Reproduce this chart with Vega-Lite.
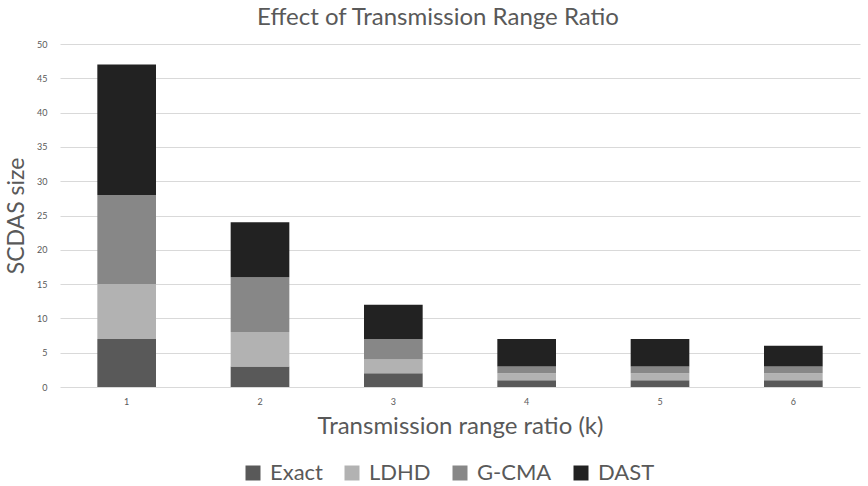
{
  "$schema": "https://vega.github.io/schema/vega-lite/v6.json",
  "autosize": {"type": "none"},
  "width": 800,
  "height": 343,
  "padding": {"left": 60, "top": 44, "right": 8, "bottom": 99},
  "background": "white",
  "config": {
    "font": "Lato",
    "view": {"stroke": null},
    "axis": {"labelColor": "#595959", "titleColor": "#595959", "labelFont": "Lato", "titleFont": "Lato", "titleFontWeight": "normal"}
  },
  "title": {"text": "Effect of Transmission Range Ratio", "fontSize": 24, "fontWeight": "normal", "color": "#595959", "font": "Lato", "anchor": "middle", "dx": -22, "offset": 10},
  "data": {
    "values": [
      {"k": "1", "series": "Exact", "ord": 1, "value": 7},
      {"k": "1", "series": "LDHD", "ord": 2, "value": 8},
      {"k": "1", "series": "G-CMA", "ord": 3, "value": 13},
      {"k": "1", "series": "DAST", "ord": 4, "value": 19},
      {"k": "2", "series": "Exact", "ord": 1, "value": 3},
      {"k": "2", "series": "LDHD", "ord": 2, "value": 5},
      {"k": "2", "series": "G-CMA", "ord": 3, "value": 8},
      {"k": "2", "series": "DAST", "ord": 4, "value": 8},
      {"k": "3", "series": "Exact", "ord": 1, "value": 2},
      {"k": "3", "series": "LDHD", "ord": 2, "value": 2},
      {"k": "3", "series": "G-CMA", "ord": 3, "value": 3},
      {"k": "3", "series": "DAST", "ord": 4, "value": 5},
      {"k": "4", "series": "Exact", "ord": 1, "value": 1},
      {"k": "4", "series": "LDHD", "ord": 2, "value": 1},
      {"k": "4", "series": "G-CMA", "ord": 3, "value": 1},
      {"k": "4", "series": "DAST", "ord": 4, "value": 4},
      {"k": "5", "series": "Exact", "ord": 1, "value": 1},
      {"k": "5", "series": "LDHD", "ord": 2, "value": 1},
      {"k": "5", "series": "G-CMA", "ord": 3, "value": 1},
      {"k": "5", "series": "DAST", "ord": 4, "value": 4},
      {"k": "6", "series": "Exact", "ord": 1, "value": 1},
      {"k": "6", "series": "LDHD", "ord": 2, "value": 1},
      {"k": "6", "series": "G-CMA", "ord": 3, "value": 1},
      {"k": "6", "series": "DAST", "ord": 4, "value": 3}
    ]
  },
  "mark": {"type": "bar"},
  "encoding": {
    "x": {
      "field": "k", "type": "ordinal",
      "scale": {"paddingInner": 0.56, "paddingOuter": 0.28},
      "axis": {"title": "Transmission range ratio (k)", "titleFontSize": 24, "titlePadding": 8, "labelFontSize": 9, "labelAngle": 0, "labelPadding": 10, "ticks": false, "domain": false}
    },
    "y": {
      "field": "value", "type": "quantitative", "stack": "zero",
      "scale": {"domain": [0, 50]},
      "axis": {"title": "SCDAS size", "titleFontSize": 23, "titlePadding": 8, "labelFontSize": 9, "values": [0,5,10,15,20,25,30,35,40,45,50], "labelOverlap": false, "ticks": false, "domain": false, "labelPadding": 13, "gridColor": "#d9d9d9", "gridWidth": 1}
    },
    "color": {
      "field": "series", "type": "nominal",
      "scale": {"domain": ["Exact", "LDHD", "G-CMA", "DAST"], "range": ["#595959", "#b2b2b2", "#878787", "#222222"]},
      "legend": {"title": null, "orient": "none", "legendX": 182, "legendY": 418, "direction": "horizontal", "symbolType": "square", "symbolSize": 225, "symbolStrokeWidth": 0, "labelFontSize": 22, "labelColor": "#595959", "labelFont": "Lato", "columnPadding": 18, "labelOffset": 6}
    },
    "order": {"field": "ord", "type": "quantitative"}
  }
}
